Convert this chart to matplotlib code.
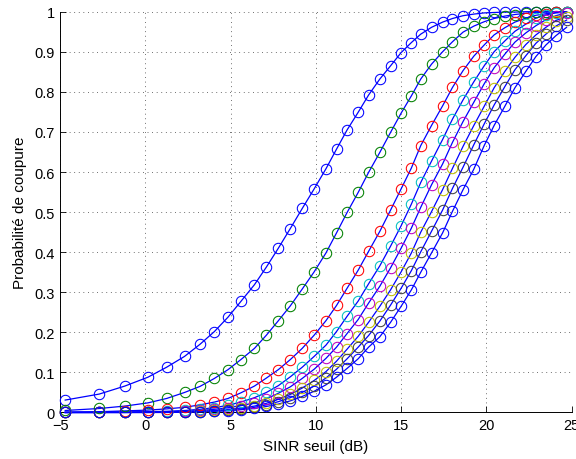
import matplotlib
matplotlib.use("Agg")
import matplotlib.pyplot as plt

# SINR threshold grid (dB) shared by all curves
sinr_db = [-4.7, -2.7, -1.2, 0.15, 1.25, 2.3, 3.2, 4.05, 4.85, 5.6,
           6.4, 7.1, 7.8, 8.5, 9.2, 9.9, 10.59, 11.21, 11.83, 12.48,
           13.09, 13.75, 14.38, 15.0, 15.6, 16.15, 16.78, 17.43, 18.01, 18.63,
           19.26, 19.87, 20.45, 21.08, 21.67, 22.31, 22.9, 23.49, 24.07, 24.7]

p_blue1 = [0.031, 0.046, 0.066, 0.088, 0.113, 0.140, 0.170, 0.202, 0.238, 0.277,
           0.319, 0.363, 0.410, 0.459, 0.509, 0.558, 0.608, 0.657, 0.705, 0.749,
           0.792, 0.832, 0.865, 0.898, 0.923, 0.944, 0.961, 0.974, 0.983, 0.990,
           0.994, 0.997, 0.998, 0.999, 0.999, 1.0, 1.0, 1.0, 1.0, 1.0]

p_green = [0.005, 0.010, 0.016, 0.024, 0.035, 0.050, 0.065, 0.085, 0.107, 0.132,
           0.160, 0.193, 0.229, 0.266, 0.308, 0.351, 0.398, 0.448, 0.499, 0.549,
           0.599, 0.649, 0.699, 0.747, 0.790, 0.832, 0.869, 0.900, 0.925, 0.949,
           0.964, 0.975, 0.983, 0.989, 0.993, 0.996, 0.998, 0.999, 0.999, 1.0]

p_red = [0.001, 0.002, 0.004, 0.006, 0.009, 0.013, 0.019, 0.026, 0.035, 0.049,
         0.066, 0.086, 0.107, 0.132, 0.160, 0.193, 0.229, 0.267, 0.310, 0.355,
         0.402, 0.452, 0.505, 0.558, 0.610, 0.666, 0.716, 0.765, 0.811, 0.853,
         0.889, 0.917, 0.942, 0.960, 0.974, 0.984, 0.991, 0.995, 0.998, 0.999]

p_cyan = [0.0, 0.001, 0.001, 0.002, 0.003, 0.005, 0.008, 0.012, 0.018, 0.026,
          0.037, 0.050, 0.067, 0.089, 0.113, 0.140, 0.168, 0.202, 0.240, 0.278,
          0.321, 0.366, 0.415, 0.466, 0.520, 0.574, 0.627, 0.681, 0.732, 0.780,
          0.825, 0.865, 0.900, 0.927, 0.951, 0.969, 0.984, 0.992, 0.997, 0.999]

p_magenta = [0.0, 0.0, 0.001, 0.001, 0.002, 0.003, 0.005, 0.008, 0.012, 0.017,
             0.024, 0.034, 0.048, 0.064, 0.085, 0.108, 0.135, 0.163, 0.197, 0.232,
             0.273, 0.315, 0.361, 0.410, 0.460, 0.512, 0.568, 0.620, 0.674, 0.726,
             0.774, 0.820, 0.860, 0.894, 0.924, 0.947, 0.965, 0.980, 0.990, 0.997]

p_yellow = [0.0, 0.0, 0.0, 0.001, 0.001, 0.002, 0.003, 0.005, 0.008, 0.011,
            0.016, 0.023, 0.033, 0.045, 0.061, 0.080, 0.102, 0.128, 0.158, 0.190,
            0.225, 0.265, 0.306, 0.351, 0.398, 0.450, 0.501, 0.556, 0.609, 0.664,
            0.716, 0.764, 0.810, 0.851, 0.886, 0.918, 0.942, 0.961, 0.978, 0.988]

p_black = [0.0, 0.0, 0.0, 0.0, 0.001, 0.001, 0.002, 0.004, 0.006, 0.009,
           0.013, 0.019, 0.027, 0.037, 0.050, 0.066, 0.086, 0.108, 0.134, 0.163,
           0.192, 0.228, 0.268, 0.310, 0.354, 0.401, 0.452, 0.505, 0.559, 0.612,
           0.668, 0.720, 0.767, 0.813, 0.855, 0.890, 0.921, 0.944, 0.964, 0.979]

p_blue2 = [0.0, 0.0, 0.0, 0.0, 0.0, 0.001, 0.002, 0.003, 0.004, 0.007,
           0.010, 0.015, 0.021, 0.029, 0.040, 0.053, 0.069, 0.088, 0.110, 0.134,
           0.163, 0.189, 0.225, 0.265, 0.306, 0.350, 0.398, 0.448, 0.502, 0.556,
           0.607, 0.666, 0.716, 0.764, 0.810, 0.851, 0.888, 0.917, 0.940, 0.961]

series = [p_blue1, p_green, p_red, p_cyan, p_magenta, p_yellow, p_black, p_blue2]
marker_colors = ["#0000ff", "#008000", "#ff0000", "#00bfbf", "#bf00bf",
                 "#bfbf00", "#404040", "#0000ff"]

xticks = [-5, 0, 5, 10, 15, 20, 25]
yticks = [0, 0.1, 0.2, 0.3, 0.4, 0.5, 0.6, 0.7, 0.8, 0.9, 1]
ytick_labels = ["0", "0.1", "0.2", "0.3", "0.4", "0.5", "0.6", "0.7", "0.8", "0.9", "1"]

plt.rcParams["font.family"] = ["Liberation Sans", "DejaVu Sans"]
fig = plt.figure(figsize=(5.76, 4.60), dpi=100)
ax = fig.add_axes([0.1043, 0.1011, 0.8882, 0.8713])

for ys, mc in zip(series, marker_colors):
    ax.plot(sinr_db, ys, "-", color="#0000ff", lw=0.9, zorder=3, clip_on=False)
    ax.plot(sinr_db, ys, "o", mfc="none", mec=mc, ms=7.5, mew=0.75,
            zorder=4, clip_on=False)

ax.set_xlim(-5, 25)
ax.set_ylim(0, 1)
ax.set_xticks(xticks)
ax.set_xticklabels([str(t).replace("-", "\u2212") for t in xticks])
ax.set_yticks(yticks)
ax.set_yticklabels(ytick_labels)
ax.tick_params(direction="in", length=4, width=0.6, labelsize=10.5, pad=4)
ax.grid(True, color="0.25", linestyle=(0, (1, 4.5)), linewidth=0.6)
ax.set_axisbelow(True)
for s in ["top", "right"]:
    ax.spines[s].set_visible(False)
for s in ["left", "bottom"]:
    ax.spines[s].set_linewidth(0.7)
ax.set_xlabel("SINR seuil (dB)", fontsize=11, labelpad=5)
ax.set_ylabel("Probabilité de coupure", fontsize=11, labelpad=5)

fig.savefig("out.png", dpi=100)
